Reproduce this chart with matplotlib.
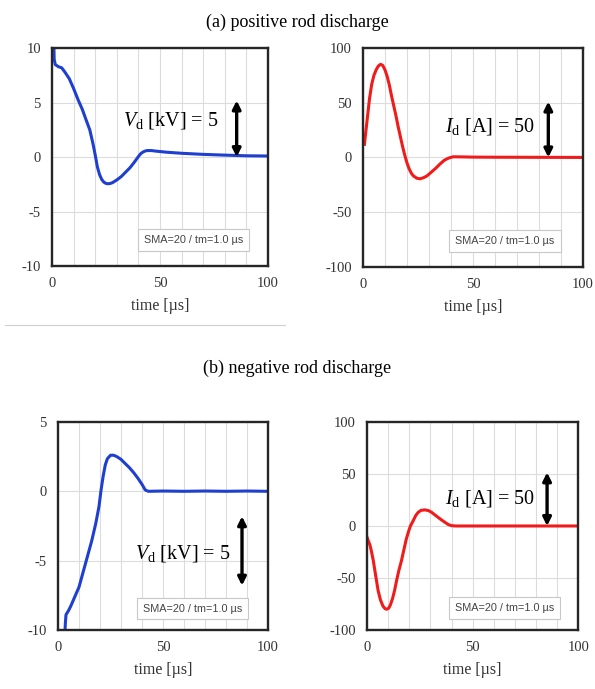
import matplotlib
matplotlib.use("Agg")
import matplotlib.pyplot as plt
from matplotlib.ticker import MultipleLocator
from matplotlib.lines import Line2D

plt.rcParams['font.family'] = ['Liberation Serif', 'DejaVu Serif']
plt.rcParams['mathtext.fontset'] = 'custom'
plt.rcParams['mathtext.rm'] = 'Liberation Serif'
plt.rcParams['mathtext.it'] = 'Liberation Serif:italic'
plt.rcParams['axes.unicode_minus'] = False

# (a) positive rod discharge - voltage [kV]
t_pv = [0.8, 1.0, 1.5, 3.0, 4.5, 6, 8, 10, 12, 14, 16, 17.5, 19, 20, 21, 22, 23, 24, 25,
        26, 27, 28, 30, 32, 34, 36, 38, 40, 41, 42, 43, 44, 46, 48, 53, 60, 70, 80, 90, 100]
v_pv = [11, 9.0, 8.5, 8.3, 8.2, 7.8, 7.2, 6.3, 5.3, 4.4, 3.3, 2.5, 1.2, 0.2, -0.9, -1.6,
        -2.05, -2.3, -2.42, -2.45, -2.42, -2.35, -2.1, -1.8, -1.4, -1.0, -0.5, 0.05, 0.3,
        0.45, 0.55, 0.6, 0.6, 0.55, 0.45, 0.35, 0.25, 0.18, 0.12, 0.1]

# (a) positive rod discharge - current [A]
t_pi = [0.7, 1.0, 2, 3, 4, 5, 6, 7, 8, 9, 10, 11, 12, 13, 14, 15, 16, 17, 18, 19, 20,
        21, 22, 23, 24.5, 26, 27.5, 29, 31, 33, 35, 37, 39, 41, 45, 50, 60, 100]
i_pi = [12, 18, 36, 54, 67, 75, 80, 83.5, 85, 84, 80, 74, 66, 56, 47, 38, 28, 19, 10,
        2, -5, -10.5, -14.5, -17, -19, -19.5, -18.5, -17, -13.5, -10, -6, -2.5, -0.5,
        0.6, 0.5, 0.3, 0.2, 0]

# (b) negative rod discharge - voltage [kV]
t_nv = [3.2, 3.5, 3.8, 5, 6, 8, 10, 12, 14, 16, 18, 19.5, 20.5, 21.5, 22.5, 23.5, 25,
        26.5, 28, 30, 32, 34, 36, 38, 40, 41.5, 43, 50, 60, 70, 80, 90, 100]
v_nv = [-10.5, -9.5, -8.9, -8.6, -8.3, -7.6, -6.9, -5.8, -4.7, -3.6, -2.3, -1.1, 0.1,
        1.1, 1.9, 2.35, 2.6, 2.6, 2.5, 2.3, 2.0, 1.7, 1.35, 0.95, 0.5, 0.1, 0.0, 0.02,
        0.0, 0.02, 0.0, 0.02, 0.0]

# (b) negative rod discharge - current [A]
t_ni = [0, 0.7, 1.3, 2, 2.9, 4, 5.2, 6.3, 7.5, 8.5, 9.3, 10.2, 11, 12, 13, 14, 15,
        16.3, 17.5, 18.5, 19.5, 20.5, 21.8, 23, 24.2, 25.5, 27.3, 29, 30.5, 32.5,
        34.5, 36.5, 38.4, 40, 42, 100]
i_ni = [-11, -15, -18, -24, -33, -47, -62, -71, -77, -79.5, -80, -79, -76, -70, -62,
        -52, -43, -33, -22, -13, -6, 0, 5, 10, 13.2, 15, 15.5, 14.8, 13.2, 10, 6.9, 4,
        1.4, 0.3, 0, 0]

BLUE = '#1f3fcf'
RED = '#f01c1c'

fig = plt.figure(figsize=(5.95, 6.89), dpi=100)


def make_ax(rect, ylim, ystep):
    ax = fig.add_axes(rect)
    ax.set_xlim(0, 100)
    ax.set_ylim(*ylim)
    ax.xaxis.set_major_locator(MultipleLocator(50))
    ax.xaxis.set_minor_locator(MultipleLocator(10))
    ax.yaxis.set_major_locator(MultipleLocator(ystep))
    ax.grid(True, which='both', axis='x', color='#dcdcdc', lw=0.8)
    ax.grid(True, which='major', axis='y', color='#dcdcdc', lw=0.8)
    ax.set_axisbelow(True)
    ax.tick_params(which='both', length=0, labelsize=10.5, colors='#333333', pad=8)
    for s in ax.spines.values():
        s.set_linewidth(1.7)
        s.set_color('#262626')
    ax.set_xlabel('time [\u00b5s]', fontsize=11.5, color='#333333', labelpad=6)
    return ax


def sma_box(ax, x, y):
    ax.text(x, y, 'SMA=20 / tm=1.0 \u00b5s', fontsize=7.8, family='Liberation Sans',
            color='#444444', ha='center', va='center', transform=ax.transData,
            bbox=dict(boxstyle='square,pad=0.55', fc='white', ec='#c8c8c8', lw=0.8))


def arrow(ax, x, y0, y1):
    ax.annotate('', xy=(x, y0), xytext=(x, y1),
                arrowprops=dict(arrowstyle='<|-|>', color='black', lw=2.4,
                                mutation_scale=12, shrinkA=0, shrinkB=0))


# (a) left: voltage
ax1 = make_ax([0.0874, 0.614, 0.363, 0.316], (-10, 10), 5)
ax1.plot(t_pv, v_pv, color=BLUE, lw=2.2)
arrow(ax1, 85.5, 0, 5.2)
ax1.text(77, 3.4, r'$V_\mathrm{d}$ [kV] = 5', fontsize=14.5, ha='right', va='center')
sma_box(ax1, 65.5, -7.6)

# (a) right: current
ax2 = make_ax([0.610, 0.6125, 0.370, 0.318], (-100, 100), 50)
ax2.plot(t_pi, i_pi, color=RED, lw=2.2)
arrow(ax2, 84.2, 0, 51)
ax2.text(78, 28, r'$I_\mathrm{d}$ [A] = 50', fontsize=14.5, ha='right', va='center')
sma_box(ax2, 64.5, -76)

# (b) left: voltage
ax3 = make_ax([0.0975, 0.0856, 0.353, 0.302], (-10, 5), 5)
ax3.plot(t_nv, v_nv, color=BLUE, lw=2.2)
arrow(ax3, 87.6, -6.8, -1.8)
ax3.text(82, -4.45, r'$V_\mathrm{d}$ [kV] = 5', fontsize=14.5, ha='right', va='center')
sma_box(ax3, 64, -8.45)

# (b) right: current
ax4 = make_ax([0.617, 0.0856, 0.355, 0.302], (-100, 100), 50)
ax4.plot(t_ni, i_ni, color=RED, lw=2.2)
arrow(ax4, 85.2, 0, 51.5)
ax4.text(79.6, 26, r'$I_\mathrm{d}$ [A] = 50', fontsize=14.5, ha='right', va='center')
sma_box(ax4, 65, -79)

fig.text(297 / 595, 1 - 22 / 689, '(a) positive rod discharge', fontsize=13,
         ha='center', va='center')
fig.text(297 / 595, 1 - 368 / 689, '(b) negative rod discharge', fontsize=13,
         ha='center', va='center')

# thin separator line under panel (a) left, as in the scanned figure
fig.add_artist(Line2D([5 / 595, 285 / 595], [1 - 325 / 689, 1 - 325 / 689],
                      color='#cfcfcf', lw=0.8))

fig.savefig('out.png', dpi=100)
